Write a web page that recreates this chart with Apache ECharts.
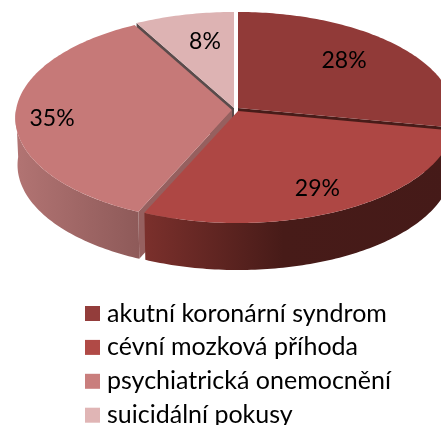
<!DOCTYPE html>
<html><head><meta charset="utf-8">
<style>html,body{margin:0;padding:0;background:#fff;overflow:hidden}#c{width:441px;height:425px}</style>
<script src="https://cdn.jsdelivr.net/npm/echarts@6/dist/echarts.min.js"></script>
</head><body><div id="c"></div>
<script>
const categories = ['akutní koronární syndrom','cévní mozková příhoda','psychiatrická onemocnění','suicidální pokusy'];
const values = [28, 28.6, 35.4, 8];

// styling only
const faceColors = ['#913a38','#ae4744','#c67978','#ddb3b3'];
const legendColors = ['#933d3b','#b04a46','#c97e7d','#e0b5b5'];
const wallStops = [null,
  [[0,'#7b302c'],[0.45,'#471b18'],[1,'#451a18']],
  [[0,'#b27473'],[1,'#8e5a59']],
  null];
const radialWall = [{end:'#481c19'}, null, {start:'#96605f'}, {start:'#5a4b4b'}];
const offsets = [[5,-1],[5,2],[-1,1],[1,-1]];
const zOrder = [2,4,3,1];
const labelPos = [[.637,.744],[.79,.83],[.834,1.5],[.54,.68]];
const CX=233, CY=109, A=216, B=103.4, K=0.077, DEPTH=47, BOTTOM=0.99;
const total = values.reduce((a,b)=>a+b,0);

function project(deg, r, i, drop){
  const t = deg*Math.PI/180, u = r*Math.sin(t), v = -r*Math.cos(t);
  const s = 1/(1-K*v), w = drop ? BOTTOM : 1;
  return [CX+offsets[i][0]+A*u*s*w, CY+offsets[i][1]+B*v*s+(drop?DEPTH:0)];
}
function arc(a0,a1,i,drop){
  const pts=[], n=Math.max(2,Math.ceil(Math.abs(a1-a0)));
  for(let k=0;k<=n;k++) pts.push(project(a0+(a1-a0)*k/n,1,i,drop));
  return pts;
}
function renderSlice(i){
  return function(params, api){
    const v = api.value(0);
    let before = 0; for(let k=0;k<i;k++) before += values[k];
    const a0 = before/total*360, a1 = (before+v)/total*360;
    const kids = [];
    const apex = project(0,0,i,false), apexB = project(0,0,i,true);
    const rw = radialWall[i];
    if(rw){
      const ang = rw.start ? a0 : a1, fill = rw.start || rw.end;
      const e = project(ang,1,i,false), eB = project(ang,1,i,true);
      kids.push({type:'polygon',shape:{points:[apex,e,eB,apexB]},style:{fill:fill}});
    }
    const w0 = Math.max(a0,90), w1 = Math.min(a1,270);
    if(w1>w0){
      const stops = wallStops[i];
      const fill = stops ? {type:'linear',x:0,y:0,x2:1,y2:0,colorStops:stops.map(s=>({offset:s[0],color:s[1]}))} : '#481c19';
      kids.push({type:'polygon',shape:{points:arc(w0,w1,i,false).concat(arc(w1,w0,i,true))},style:{fill:fill}});
    }
    kids.push({type:'polygon',shape:{points:[apex].concat(arc(a0,a1,i,false))},style:{fill:faceColors[i]}});
    const mid = (a0+a1)/2*Math.PI/180;
    kids.push({type:'text',style:{
      x:apex[0]+A*labelPos[i][0]*Math.sin(mid),
      y:apex[1]-B*labelPos[i][1]*Math.cos(mid)+1.5,
      text:Math.round(v)+'%',fill:'#000',font:'23px Lato, "Open Sans", sans-serif',
      align:'center',verticalAlign:'middle'}});
    return {type:'group',children:kids};
  };
}
const chart = echarts.init(document.getElementById('c'),null,{renderer:'canvas',width:441,height:425});
chart.setOption({
  animation:false,
  backgroundColor:'#fff',
  color:legendColors,
  legend:{
    show:true,orient:'vertical',left:85,top:301,height:200,
    data:categories,itemWidth:15,itemHeight:15,itemGap:8.9,padding:0,
    icon:'rect',selectedMode:false,
    textStyle:{color:'#000',fontFamily:'Lato',fontSize:25,lineHeight:22,padding:[0,0,0,2]}
  },
  series:categories.map((name,i)=>({
    type:'custom',name:name,coordinateSystem:'none',z:zOrder[i],silent:true,
    itemStyle:{color:legendColors[i]},
    renderItem:renderSlice(i),
    data:[[values[i]]]
  }))
});
</script></body></html>
